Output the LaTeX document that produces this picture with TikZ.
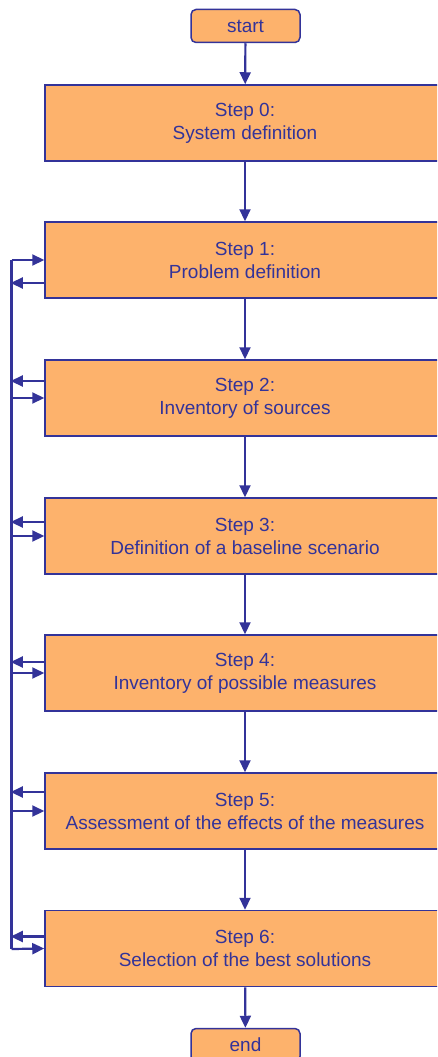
\documentclass[tikz,border=0pt]{standalone}
\usepackage{fontspec}
\setmainfont{Liberation Sans}
\usetikzlibrary{arrows.meta}
\definecolor{boxfill}{RGB}{253,178,108}
\definecolor{navy}{RGB}{51,51,153}
\begin{document}
\begin{tikzpicture}[x=1pt,y=-1pt,
  stepbox/.style={draw=navy,line width=1.5pt,fill=boxfill,text=navy,align=center,
    minimum width=400pt,minimum height=76pt,font=\fontsize{19}{23}\selectfont},
  termbox/.style={stepbox,rounded corners=5pt,minimum width=109pt,minimum height=33pt},
  flow/.style={draw=navy,line width=2.2pt,-{Triangle[length=12pt,width=11pt]}}]
\clip(0,0) rectangle (437,1057);
\node[termbox] (start) at (245.5,26) {start};
\node[stepbox] (s0) at (245,123) {Step 0:\\System definition};
\node[stepbox] (s1) at (245,260) {Step 1:\\Problem definition};
\node[stepbox] (s2) at (245,398) {Step 2:\\Inventory of sources};
\node[stepbox] (s3) at (245,536) {Step 3:\\Definition of a baseline scenario};
\node[stepbox] (s4) at (245,673) {Step 4:\\Inventory of possible measures};
\node[stepbox] (s5) at (245,811) {Step 5:\\Assessment of the effects of the measures};
\node[stepbox] (s6) at (245,948.5) {Step 6:\\Selection of the best solutions};
\node[termbox] (end) at (245.5,1045) {end};
% main flow
\draw[flow](start)--(s0);
\draw[flow](s0)--(s1);
\draw[flow](s1)--(s2);
\draw[flow](s2)--(s3);
\draw[flow](s3)--(s4);
\draw[flow](s4)--(s5);
\draw[flow](s5)--(s6);
\draw[flow](s6)--(end);
% feedback bus
\coordinate (bustop) at (11.5,260);
\coordinate (busbot) at (11.5,949);
\draw[navy,line width=2.2pt](bustop)--(busbot);
\draw[flow](bustop)--(s1.west);
\draw[flow](bustop|-s2.west)--(s2.west);
\draw[flow](bustop|-s3.west)--(s3.west);
\draw[flow](bustop|-s4.west)--(s4.west);
\draw[flow](bustop|-s5.west)--(s5.west);
\draw[flow](busbot)--(s6.west);
\draw[flow]([yshift=-23pt]s1.west)--+(-33.5,0);
\draw[flow]([yshift=17pt]s2.west)--+(-33.5,0);
\draw[flow]([yshift=14pt]s3.west)--+(-33.5,0);
\draw[flow]([yshift=11pt]s4.west)--+(-33.5,0);
\draw[flow]([yshift=19pt]s5.west)--+(-33.5,0);
\draw[flow]([yshift=12pt]s6.west)--+(-33.5,0);
\end{tikzpicture}
\end{document}
